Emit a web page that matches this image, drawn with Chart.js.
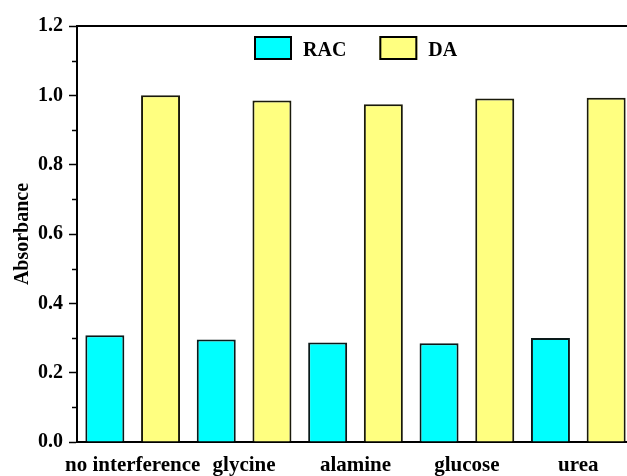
<!DOCTYPE html>
<html>
<head>
<meta charset="utf-8">
<script src="https://cdn.jsdelivr.net/npm/chart.js@4/dist/chart.umd.min.js"></script>
<style>
  html, body { margin: 0; padding: 0; background: #fff; overflow: hidden; }
  #wrap { position: relative; width: 640px; height: 476px; }
</style>
</head>
<body>
<div id="wrap"><canvas id="myChart"></canvas></div>
<script>
const ctx = document.getElementById("myChart");

var categories = ["no interference", "glycine", "alamine", "glucose", "urea"];
var racValues = [0.308, 0.296, 0.287, 0.285, 0.300];
var daValues = [1.000, 0.985, 0.974, 0.991, 0.993];
var yTicks = ["0.0", "0.2", "0.4", "0.6", "0.8", "1.0", "1.2"];

var font = { family: "Liberation Serif", weight: "bold", size: 20 };

// minor ticks on the y axis, top frame line and the legend inside the plot
const frame = {
    id: "frame",
    afterDraw(chart) {
        const c = chart.ctx;
        const a = chart.chartArea;
        const y = chart.scales.y;
        c.save();
        c.strokeStyle = "#000";
        c.lineWidth = 2;
        c.beginPath();
        c.moveTo(a.left, a.top);
        c.lineTo(a.right + 10, a.top);
        c.stroke();
        c.lineWidth = 1.5;
        y.ticks.forEach(function (t) {
            if (Math.round(t.value * 10) % 2 === 1) {
                const py = Math.round(y.getPixelForValue(t.value)) + 0.5;
                c.beginPath();
                c.moveTo(a.left - 5, py);
                c.lineTo(a.left, py);
                c.stroke();
            }
        });

        // legend
        const boxW = 38, boxH = 24, gapText = 11, gapItem = 33;
        c.font = "bold 20px 'Liberation Serif'";
        const sets = chart.data.datasets;
        let total = 0;
        sets.forEach(function (ds, i) {
            total += boxW + gapText + c.measureText(ds.label).width;
            if (i < sets.length - 1) total += gapItem;
        });
        let x = Math.round((a.left + a.right) / 2 - total / 2);
        const top = a.top + 10;
        c.textBaseline = "middle";
        c.textAlign = "left";
        sets.forEach(function (ds) {
            c.fillStyle = ds.backgroundColor;
            c.fillRect(x, top, boxW, boxH);
            c.lineWidth = 2;
            c.strokeStyle = "#000";
            c.strokeRect(x + 1, top + 1, boxW - 2, boxH - 2);
            c.fillStyle = "#000";
            c.fillText(ds.label, x + boxW + gapText, top + boxH / 2 + 3);
            x += boxW + gapText + c.measureText(ds.label).width + gapItem;
        });
        c.restore();
    },
};

new Chart(ctx, {
    type: "bar",
    data: {
        labels: categories,
        datasets: [
            {
                label: "RAC",
                data: racValues,
                backgroundColor: "#00FFFF",
                borderColor: "#0a1a1a",
                borderWidth: 2,
            },
            {
                label: "DA",
                data: daValues,
                backgroundColor: "#FFFF80",
                borderColor: "#1a1a0a",
                borderWidth: 2,
            },
        ],
    },
    options: {
        responsive: true,
        maintainAspectRatio: false,
        animation: false,
        layout: { padding: { left: 0, right: 6, top: 26, bottom: 0 } },
        datasets: {
            bar: { categoryPercentage: 1.0, barPercentage: 0.7 },
        },
        plugins: {
            tooltip: { enabled: false },
            legend: { display: false },
        },
        scales: {
            x: {
                grid: { display: true, drawOnChartArea: false, drawTicks: false },
                border: { display: true, color: "#000", width: 2 },
                ticks: {
                    font: { family: "Liberation Serif", weight: "bold", size: 21 },
                    color: "#000",
                    padding: 11,
                    maxRotation: 0,
                    autoSkip: false,
                },
                afterFit(scale) { scale.height = 34; },
            },
            y: {
                min: 0,
                max: 1.2,
                grid: {
                    drawOnChartArea: false,
                    tickLength: 8,
                    tickWidth: 1.5,
                    tickColor(c) {
                        return c.tick && Math.round(c.tick.value * 10) % 2 === 0 ? "#000" : "rgba(0,0,0,0)";
                    },
                },
                border: { display: true, color: "#000", width: 2 },
                ticks: {
                    stepSize: 0.1,
                    font: font,
                    color: "#000",
                    padding: 6,
                    callback(v) {
                        const k = Math.round(v * 10);
                        return k % 2 === 0 ? yTicks[k / 2] : "";
                    },
                },
                title: {
                    display: true,
                    text: "Absorbance",
                    font: font,
                    color: "#000",
                    padding: { top: 11, bottom: 0 },
                },
                afterFit(scale) { scale.width = 77; },
            },
        },
    },
    plugins: [frame],
});
</script>
</body>
</html>
